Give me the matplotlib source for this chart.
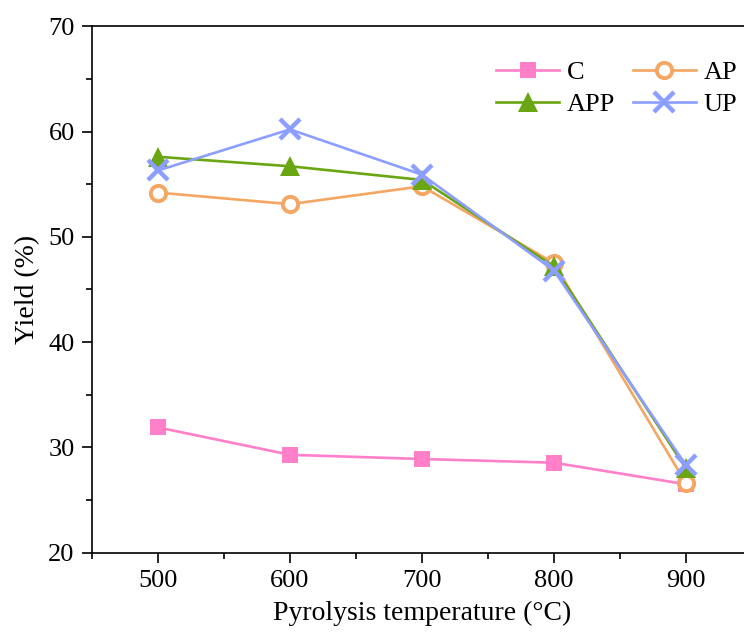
import numpy as np
import matplotlib
matplotlib.use('Agg')
import matplotlib.pyplot as plt

plt.rcParams['font.family'] = ['Liberation Serif', 'DejaVu Serif']
plt.rcParams['mathtext.fontset'] = 'stix'

temps = [500, 600, 700, 800, 900]
yield_c = [31.9, 29.3, 28.9, 28.55, 26.5]
yield_ap = [54.2, 53.1, 54.8, 47.5, 26.6]
yield_app = [57.6, 56.7, 55.4, 47.2, 28.0]
yield_up = [56.3, 60.2, 55.9, 46.8, 28.3]

fig = plt.figure(figsize=(7.44, 6.39), dpi=100)
ax = fig.add_axes([0.1237, 0.135, 0.887, 0.824])

lc, = ax.plot(temps, yield_c, color='#ff7fc8', lw=1.9, marker='s', ms=11.5,
              markeredgewidth=0, label='C')
lap, = ax.plot(temps, yield_ap, color='#f4a662', lw=1.9, marker='o', ms=11,
               markerfacecolor='white', markeredgewidth=2.8, label='AP')
lapp, = ax.plot(temps, yield_app, color='#6aa512', lw=1.9, marker='^', ms=14.5,
                markeredgewidth=0, label='APP')
lup, = ax.plot(temps, yield_up, color='#8c9eff', lw=1.9, marker='x', ms=15,
               markeredgewidth=3.2, label='UP')

ax.set_xlim(450, 950)
ax.set_ylim(20, 70)
ax.set_xticks([500, 600, 700, 800, 900])
ax.set_xticks([450, 550, 650, 750, 850], minor=True)
ax.set_yticks([20, 30, 40, 50, 60, 70])
ax.set_yticks([25, 35, 45, 55, 65], minor=True)
ax.tick_params(which='major', length=7.5, width=1.2, labelsize=19, direction='out', pad=5)
ax.tick_params(which='minor', length=4, width=1.2, direction='out')
ax.spines['right'].set_visible(False)
for s in ['left', 'bottom', 'top']:
    ax.spines[s].set_linewidth(1.2)

ax.set_xlabel('Pyrolysis temperature (°C)', fontsize=20, labelpad=6)
ax.set_ylabel('Yield (%)', fontsize=20, labelpad=6)

ax.legend([lc, lapp, lap, lup], ['C', 'APP', 'AP', 'UP'], ncol=2,
          frameon=False, fontsize=19, handlelength=2.4, columnspacing=0.65,
          handletextpad=0.3, labelspacing=0.32, borderpad=0, borderaxespad=0,
          loc='upper right', bbox_to_anchor=(0.978, 0.935))

fig.savefig('out.png', dpi=100)
